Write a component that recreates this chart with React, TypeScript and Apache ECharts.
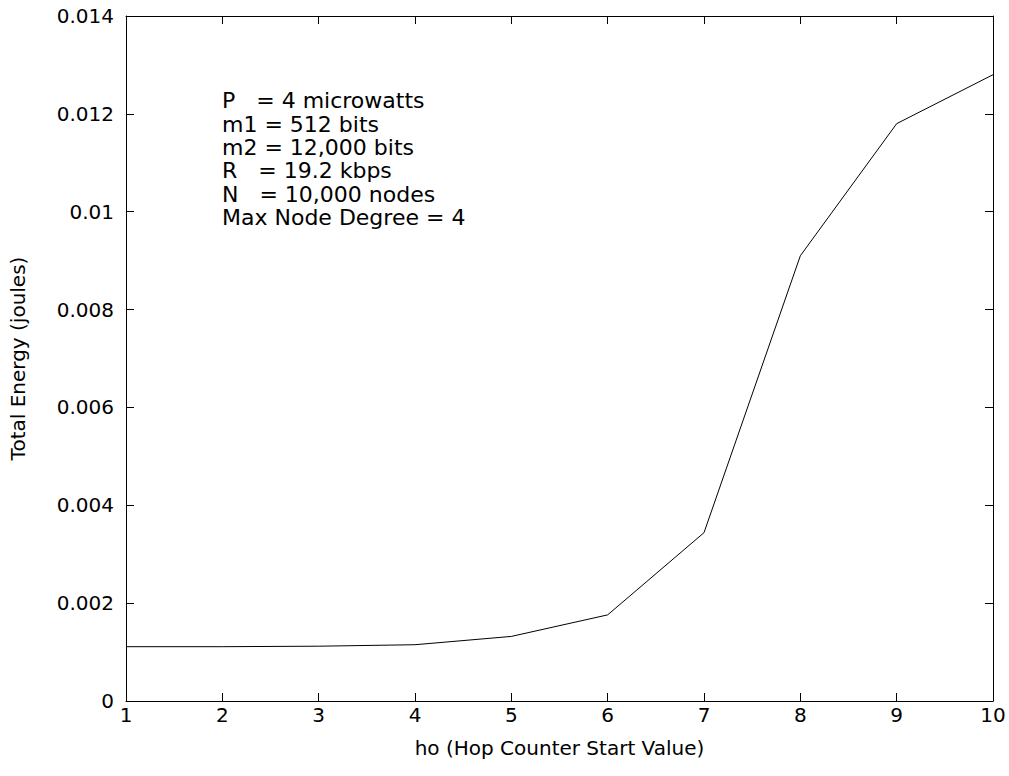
import React, { useEffect, useRef } from "react";
import * as echarts from "echarts";

const hopStart = [1, 2, 3, 4, 5, 6, 7, 8, 9, 10];
const totalEnergy = [0.00111, 0.00111, 0.00112, 0.00115, 0.00132, 0.00176, 0.00344, 0.0091, 0.0118, 0.0128];
const yTicks = [0, 0.002, 0.004, 0.006, 0.008, 0.01, 0.012, 0.014];
const annotationLines = [
  "P   = 4 microwatts",
  "m1 = 512 bits",
  "m2 = 12,000 bits",
  "R   = 19.2 kbps",
  "N   = 10,000 nodes",
  "Max Node Degree = 4",
];
const xTitle = "ho (Hop Counter Start Value)";
const yTitle = "Total Energy (joules)";

const FONT = "'DejaVu Sans', Verdana, sans-serif";

export default function App() {
  const ref = useRef<HTMLDivElement>(null);
  useEffect(() => {
    if (!ref.current) return;
    const chart = echarts.init(ref.current, undefined, { renderer: "svg" });
    const axisLine = { show: true, onZero: false, lineStyle: { color: "#000", width: 1 } };
    const tickStyle = { show: true, inside: true, length: 8, lineStyle: { color: "#000", width: 1 } };
    const label = { color: "#000", fontSize: 20, fontFamily: FONT };
    chart.setOption({
      animation: false,
      backgroundColor: "#fff",
      grid: { left: 126, right: 16, top: 16, bottom: 75, containLabel: false },
      xAxis: [
        {
          type: "value",
          min: 1,
          max: 10,
          interval: 1,
          position: "bottom",
          axisLine,
          axisTick: tickStyle,
          axisLabel: { ...label, margin: 4 },
          splitLine: { show: false },
          name: xTitle,
          nameLocation: "middle",
          nameGap: 37,
          nameTextStyle: { color: "#000", fontSize: 20, fontFamily: FONT },
        },
        {
          type: "value",
          min: 1,
          max: 10,
          interval: 1,
          position: "top",
          axisLine,
          axisTick: tickStyle,
          axisLabel: { show: false },
          splitLine: { show: false },
        },
      ],
      yAxis: [
        {
          type: "value",
          min: 0,
          max: 0.014,
          interval: 0.002,
          position: "left",
          axisLine,
          axisTick: tickStyle,
          axisLabel: {
            ...label,
            margin: 12,
            formatter: (v: number) => {
              const t = yTicks.find((x) => Math.abs(x - v) < 1e-9);
              return t === undefined ? "" : String(t);
            },
          },
          splitLine: { show: false },
          name: yTitle,
          nameLocation: "middle",
          nameGap: 98,
          nameTextStyle: { color: "#000", fontSize: 20, fontFamily: FONT },
        },
        {
          type: "value",
          min: 0,
          max: 0.014,
          interval: 0.002,
          position: "right",
          axisLine,
          axisTick: tickStyle,
          axisLabel: { show: false },
          splitLine: { show: false },
        },
      ],
      graphic: [
        {
          type: "text",
          left: 222,
          top: 89,
          style: {
            text: annotationLines.join("\n"),
            fill: "#000",
            fontSize: 22,
            fontFamily: FONT,
            lineHeight: 23.4,
          },
        },
      ],
      series: [
        {
          type: "line",
          data: hopStart.map((x, i) => [x, totalEnergy[i]]),
          symbol: "none",
          lineStyle: { color: "#000", width: 1 },
          silent: true,
        },
      ],
    });
    return () => chart.dispose();
  }, []);
  return (
    <div
      ref={ref}
      style={{ position: "fixed", left: 0, top: 0, width: 1009, height: 776, background: "#fff" }}
    />
  );
}
